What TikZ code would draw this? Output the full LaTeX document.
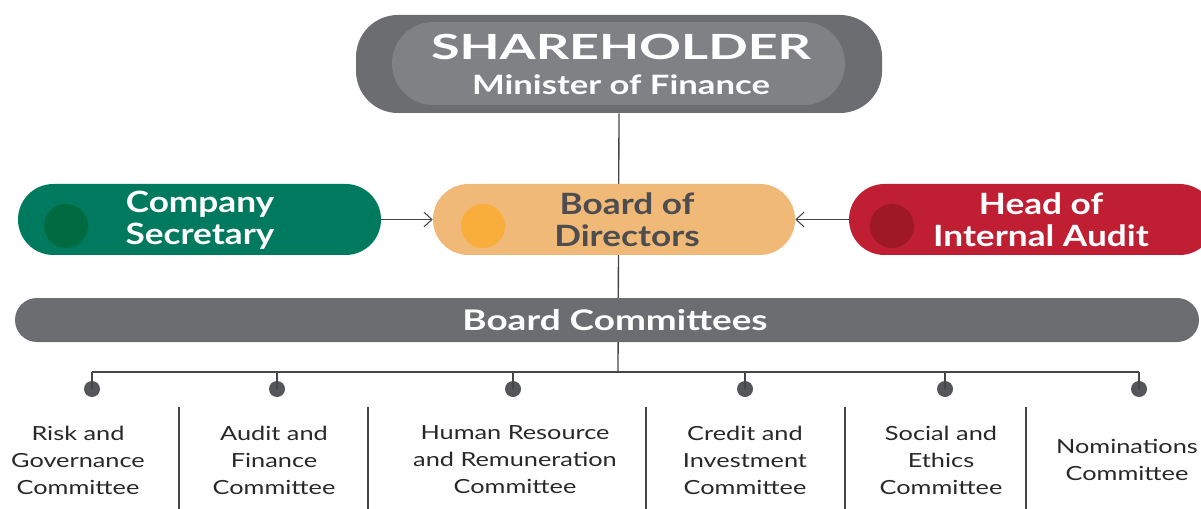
\documentclass[tikz,border=0pt]{standalone}
\usepackage{fontspec}
\setmainfont{Lato}[FakeStretch=1.2]
\newfontfamily\lblfont{Lato}[FakeStretch=1.3]
\newfontfamily\heavyfont{Lato}[FakeStretch=1.5]
\usetikzlibrary{arrows.meta}
\definecolor{gdark}{RGB}{108,109,113}
\definecolor{glight}{RGB}{128,129,133}
\definecolor{csgreen}{RGB}{0,122,94}
\definecolor{csdot}{RGB}{0,106,64}
\definecolor{bodfill}{RGB}{240,185,120}
\definecolor{boddot}{RGB}{249,174,60}
\definecolor{hiared}{RGB}{192,30,50}
\definecolor{hiadot}{RGB}{158,24,38}
\definecolor{bodtext}{RGB}{77,77,79}
\definecolor{lbltext}{RGB}{40,40,40}
\definecolor{linec}{RGB}{70,70,72}
\definecolor{dotc}{RGB}{85,86,90}
\tikzset{
  pill/.style={rectangle, rounded corners=26.6pt, minimum height=53.25pt, inner sep=0pt, draw=none},
  pilltext/.style={align=center, font=\bfseries\fontsize{22}{24}\selectfont, inner sep=0pt},
  knob/.style={circle, minimum size=33pt, inner sep=0pt, draw=none},
  arr/.style={draw=linec, line width=0.8pt, -{Straight Barb[length=6pt,width=11pt,line width=0.8pt]}},
  conn/.style={draw=linec, line width=1pt},
  bdot/.style={circle, fill=dotc, minimum size=12pt, inner sep=0pt},
  lbl/.style={align=center, text=lbltext, inner sep=0pt, font=\lblfont\fontsize{14.6}{20.25}\selectfont},
  sep/.style={draw=linec, line width=1pt}
}
\begin{document}
\begin{tikzpicture}[x=0.75pt,y=-0.75pt]
\clip (0,0) rectangle (1201,509);
\fill[white] (0,0) rectangle (1201,509);
% shareholder
\node[rectangle, rounded corners=31.5pt, fill=gdark, minimum width=394.5pt, minimum height=73.5pt, inner sep=0pt] (sh) at (619,64) {};
\node[rectangle, rounded corners=31pt, fill=glight, minimum width=339.75pt, minimum height=62.25pt, inner sep=0pt] (shin) at (618.5,63.5) {};
\node[anchor=base, text=white, inner sep=0pt, font=\heavyfont\bfseries\fontsize{26}{26}\selectfont] (shtitle) at (621,60) {SHAREHOLDER};
\node[anchor=base, text=white, inner sep=0pt, font=\lblfont\bfseries\fontsize{20}{20}\selectfont] (shsub) at (621,95) {Minister of Finance};
% bus
\coordinate (hub) at (618,372);
\draw[conn] (sh.south) -- (hub);
% middle row
\node[pill, fill=csgreen, minimum width=272.25pt] (cs) at (199.5,219.5) {};
\node[knob, fill=csdot] (csk) at (66,226) {};
\node[pilltext, text=white] (cst) at (200,220) {Company\\Secretary};
\node[pill, fill=bodfill, minimum width=271.5pt] (bod) at (614,219.5) {};
\node[knob, fill=boddot] (bodk) at (483,226) {};
\node[pilltext, text=bodtext] (bodt) at (627,220) {Board of\\Directors};
\node[pill, fill=hiared, minimum width=274.5pt] (hia) at (1032,219.5) {};
\node[knob, fill=hiadot] (hiak) at (892,226) {};
\node[pilltext, text=white] (hiat) at (1041,220) {Head of\\Internal Audit};
\draw[arr] (cs) -- (bod);
\draw[arr] (hia) -- (bod);
% committees bar
\node[rectangle, rounded corners=16.5pt, fill=gdark, minimum width=888pt, minimum height=33pt, inner sep=0pt] (bc) at (607,320) {};
\node[text=white, inner sep=0pt, font=\lblfont\bfseries\fontsize{21.3}{21.3}\selectfont] (bct) at (615,320) {Board Committees};
% branches
\node[bdot] (d1) at (92,389) {};
\node[bdot] (d2) at (277,389) {};
\node[bdot] (d3) at (513,389) {};
\node[bdot] (d4) at (745,389) {};
\node[bdot] (d5) at (945,389) {};
\node[bdot] (d6) at (1139,389) {};
\draw[conn] (d1.center |- hub) -- (d6.center |- hub);
\foreach \i in {1,...,6}{\draw[conn] (d\i.center) -- (d\i.center |- hub);}
% separators
\foreach \sx in {179,368,646,845,1026}{\draw[sep] (\sx,407) -- (\sx,509);}
% labels
\node[lbl] (c1) at (78,460) {Risk and\\Governance\\Committee};
\node[lbl] (c2) at (274,460) {Audit and\\Finance\\Committee};
\node[lbl] (c3) at (515,460) {Human Resource\\and Remuneration\\Committee};
\node[lbl] (c4) at (745,460) {Credit and\\Investment\\Committee};
\node[lbl] (c5) at (941,460) {Social and\\Ethics\\Committee};
\node[lbl] (c6) at (1127,460) {Nominations\\Committee};
\end{tikzpicture}
\end{document}
